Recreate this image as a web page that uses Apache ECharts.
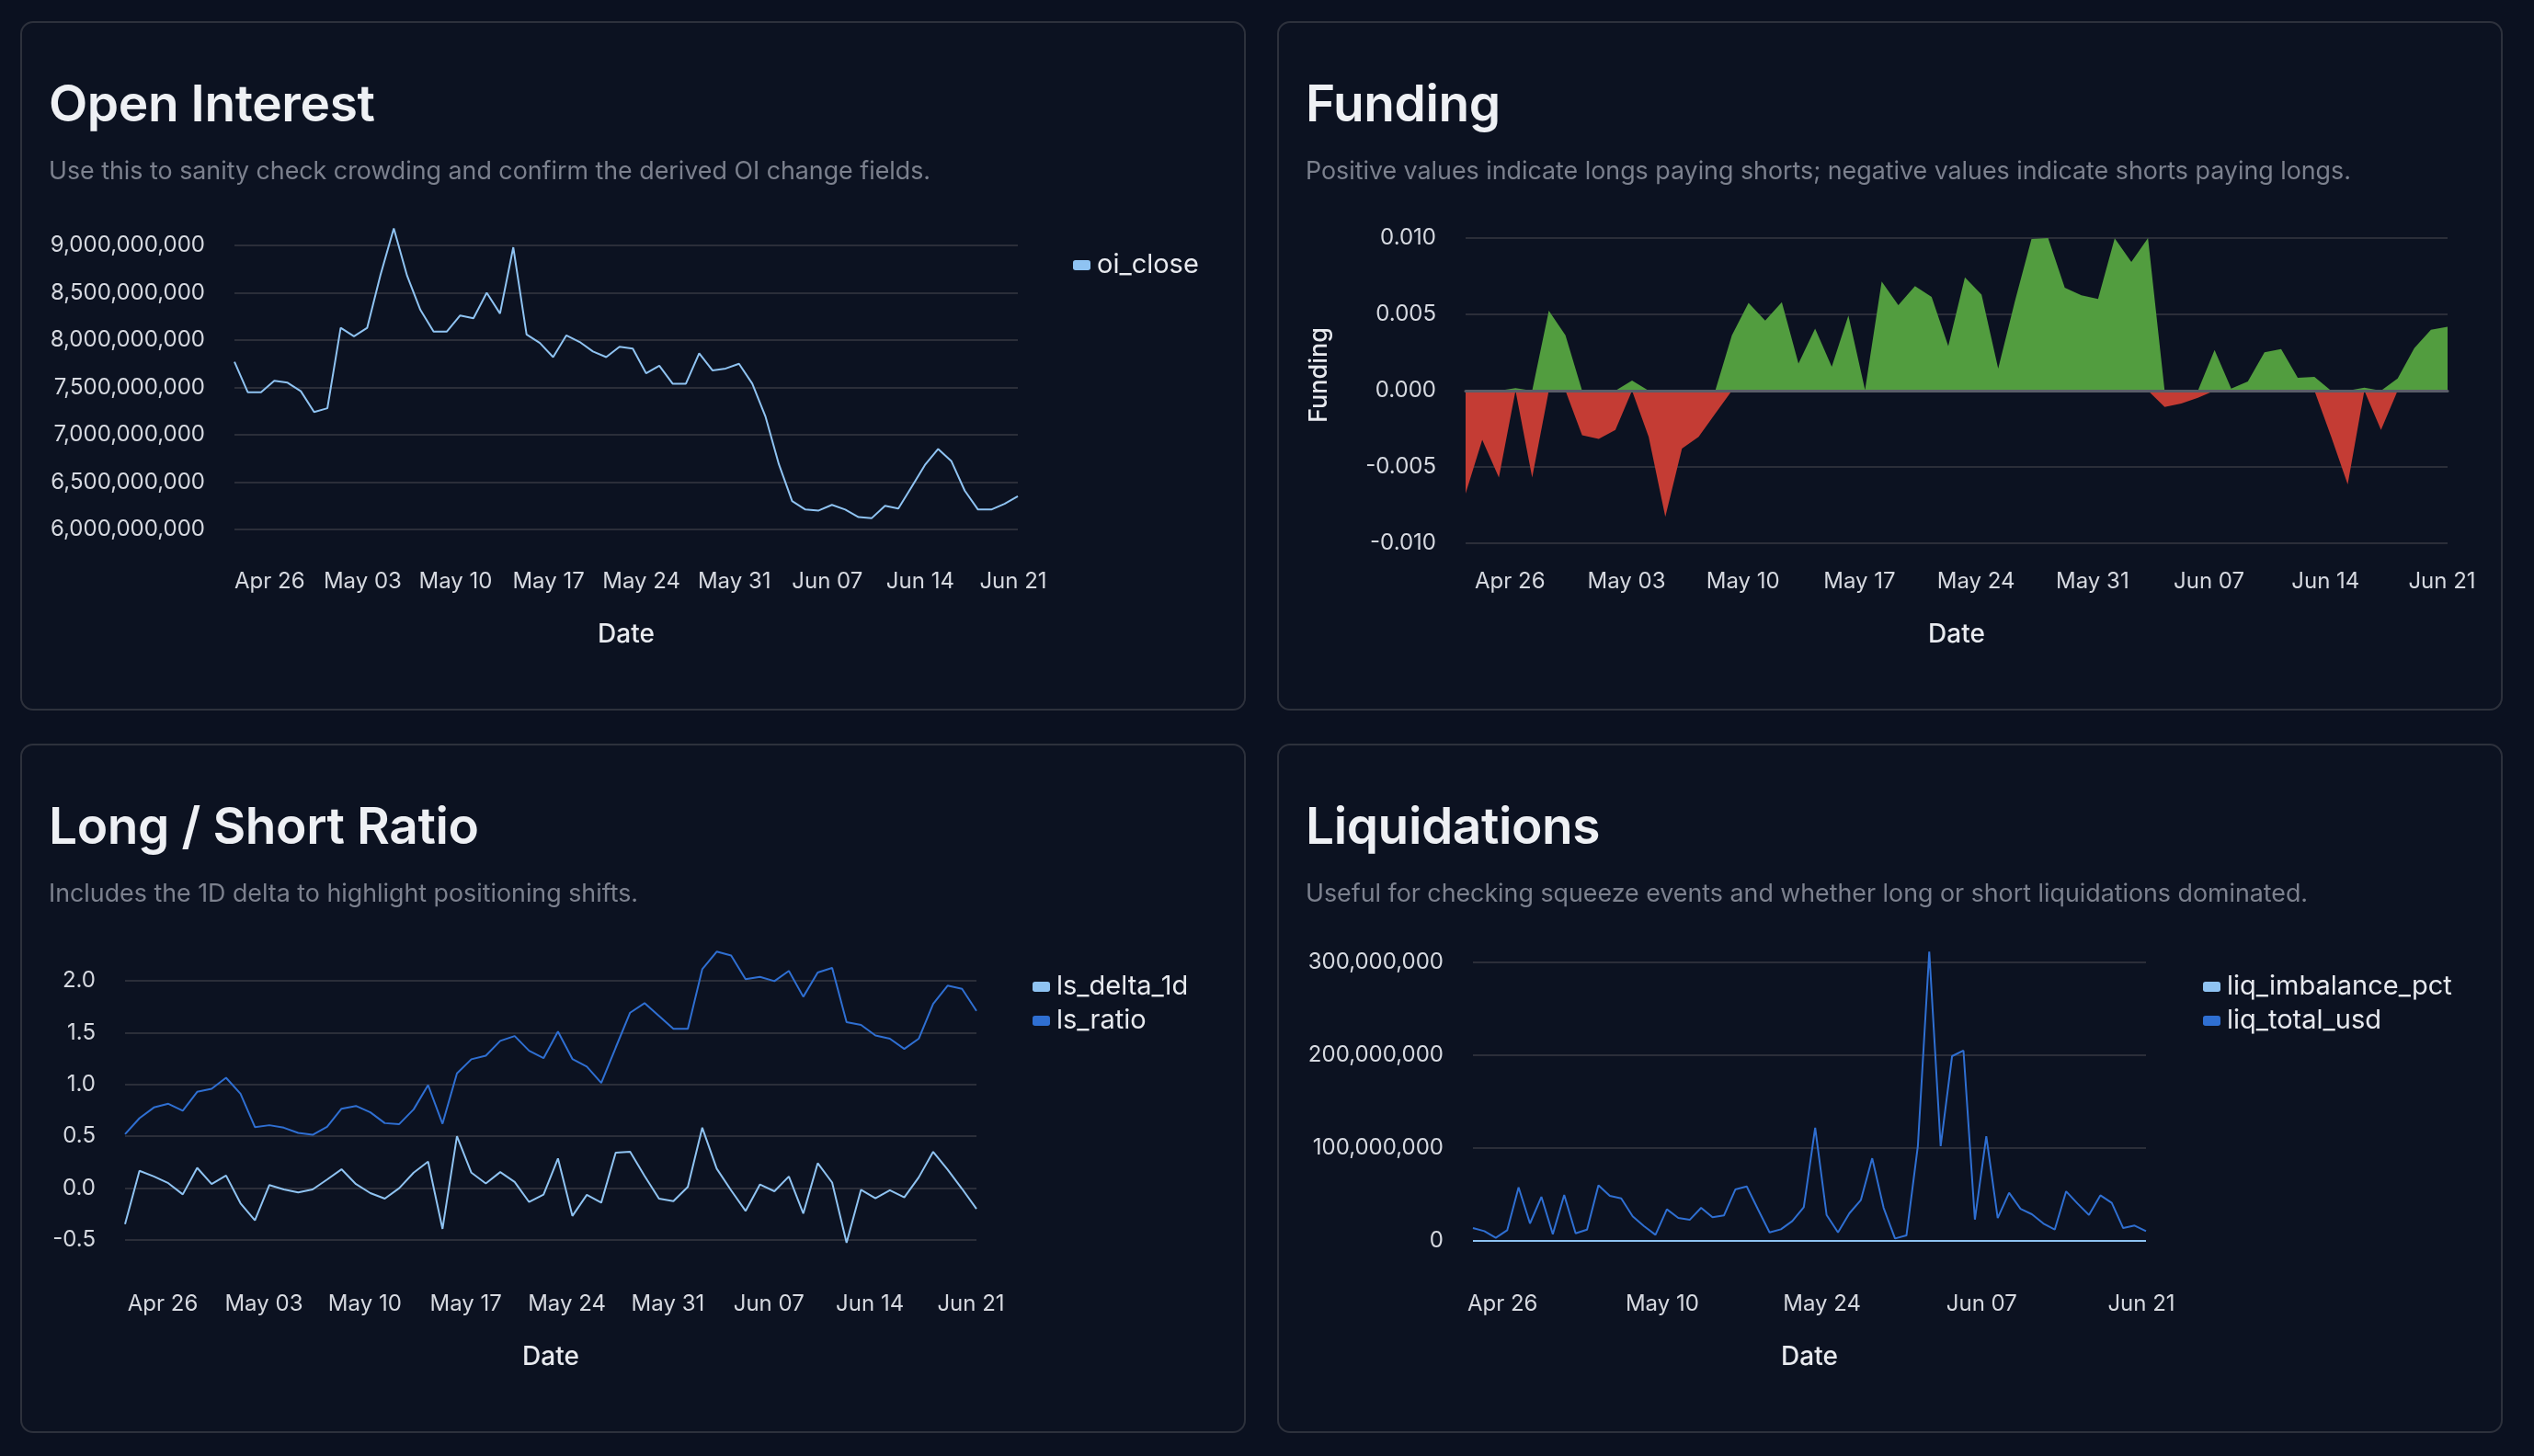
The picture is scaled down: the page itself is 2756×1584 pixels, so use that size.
<!DOCTYPE html>
<html>
<head>
<meta charset="utf-8">
<title>Derivatives dashboard</title>
<script src="https://cdn.jsdelivr.net/npm/echarts@6/dist/echarts.min.js"></script>
<style>
	html, body { margin: 0; padding: 0; background: #0b1120; width: 2756px; height: 1584px; overflow: hidden; }
	.card { position: absolute; width: 1333px; height: 750px; box-sizing: border-box; border: 2px solid #2d313c; border-radius: 14px; background: #0c1221; }
	.card h2 { position: absolute; left: 29px; top: 60px; margin: 0; font: 600 55px/1 Inter, sans-serif; color: #eef0f4; letter-spacing: -0.4px; z-index: 2; white-space: nowrap; }
	.card p { position: absolute; left: 29px; top: 147px; margin: 0; font: 400 26.8px/1 Inter, sans-serif; color: #7c818e; z-index: 2; white-space: nowrap; }
	.chart { position: absolute; left: -2px; top: -2px; width: 1333px; height: 750px; }
</style>
</head>
<body>
<div class="card" style="left:22px;top:23px">
	<div class="chart" id="oi"></div>
	<h2>Open Interest</h2>
	<p>Use this to sanity check crowding and confirm the derived OI change fields.</p>
</div>
<div class="card" style="left:1389px;top:23px">
	<div class="chart" id="funding"></div>
	<h2>Funding</h2>
	<p>Positive values indicate longs paying shorts; negative values indicate shorts paying longs.</p>
</div>
<div class="card" style="left:22px;top:809px">
	<div class="chart" id="ls"></div>
	<h2>Long / Short Ratio</h2>
	<p>Includes the 1D delta to highlight positioning shifts.</p>
</div>
<div class="card" style="left:1389px;top:809px">
	<div class="chart" id="liq"></div>
	<h2>Liquidations</h2>
	<p>Useful for checking squeeze events and whether long or short liquidations dominated.</p>
</div>
<script>
// 日期（每天一个点）
var dates = ['Apr 23', 'Apr 24', 'Apr 25', 'Apr 26', 'Apr 27', 'Apr 28', 'Apr 29', 'Apr 30',
	'May 01', 'May 02', 'May 03', 'May 04', 'May 05', 'May 06', 'May 07', 'May 08', 'May 09', 'May 10',
	'May 11', 'May 12', 'May 13', 'May 14', 'May 15', 'May 16', 'May 17', 'May 18', 'May 19', 'May 20',
	'May 21', 'May 22', 'May 23', 'May 24', 'May 25', 'May 26', 'May 27', 'May 28', 'May 29', 'May 30', 'May 31',
	'Jun 01', 'Jun 02', 'Jun 03', 'Jun 04', 'Jun 05', 'Jun 06', 'Jun 07', 'Jun 08', 'Jun 09', 'Jun 10',
	'Jun 11', 'Jun 12', 'Jun 13', 'Jun 14', 'Jun 15', 'Jun 16', 'Jun 17', 'Jun 18', 'Jun 19', 'Jun 20', 'Jun 21'];

var oiClose = [7.77e9, 7.45e9, 7.45e9, 7.57e9, 7.55e9, 7.46e9, 7.24e9, 7.28e9, 8.13e9, 8.04e9,
	8.13e9, 8.69e9, 9.18e9, 8.68e9, 8.32e9, 8.09e9, 8.09e9, 8.26e9, 8.23e9, 8.50e9,
	8.28e9, 8.98e9, 8.06e9, 7.97e9, 7.82e9, 8.05e9, 7.98e9, 7.88e9, 7.82e9, 7.93e9,
	7.91e9, 7.65e9, 7.73e9, 7.54e9, 7.54e9, 7.86e9, 7.68e9, 7.70e9, 7.75e9, 7.54e9,
	7.19e9, 6.69e9, 6.30e9, 6.21e9, 6.20e9, 6.26e9, 6.21e9, 6.13e9, 6.12e9, 6.25e9,
	6.22e9, 6.45e9, 6.68e9, 6.85e9, 6.72e9, 6.41e9, 6.21e9, 6.21e9, 6.27e9, 6.35e9];

var funding = [-0.00675, -0.00323, -0.00569, 0.00016, -0.00569, 0.00524, 0.00363, -0.00292, -0.00317, -0.00258,
	0.00067, -0.00302, -0.00827, -0.00379, -0.00302, -0.0015, 0.00363, 0.00575, 0.0046, 0.0058,
	0.00177, 0.00407, 0.00157, 0.00492, 0.00004, 0.00716, 0.0056, 0.00685, 0.00615, 0.00292,
	0.00742, 0.00629, 0.00145, 0.00585, 0.00994, 0.0100, 0.00675, 0.00625, 0.00601, 0.00998,
	0.00843, 0.0100, -0.00107, -0.00085, -0.00046, 0.00266, 0.00014, 0.0006, 0.00252, 0.00272,
	0.00085, 0.00091, -0.003, -0.00615, 0.0002, -0.00258, 0.0008, 0.00278, 0.00399, 0.00419];

var lsRatio = [0.52, 0.675, 0.778, 0.814, 0.746, 0.929, 0.959, 1.065, 0.911, 0.589,
	0.607, 0.583, 0.533, 0.515, 0.592, 0.766, 0.793, 0.731, 0.627, 0.618,
	0.760, 0.994, 0.621, 1.107, 1.243, 1.278, 1.420, 1.467, 1.325, 1.254,
	1.51, 1.246, 1.172, 1.015, 1.355, 1.692, 1.784, 1.660, 1.536, 1.536,
	2.112, 2.281, 2.243, 2.015, 2.038, 1.997, 2.095, 1.846, 2.080, 2.124,
	1.601, 1.574, 1.473, 1.441, 1.343, 1.441, 1.778, 1.953, 1.923, 1.710];

var lsDelta1d = [-0.348, 0.167, 0.113, 0.048, -0.060, 0.196, 0.039, 0.122, -0.146, -0.310,
	0.030, -0.012, -0.042, -0.012, 0.083, 0.182, 0.039, -0.048, -0.101, 0.0,
	0.149, 0.256, -0.393, 0.5, 0.149, 0.045, 0.155, 0.060, -0.134, -0.062,
	0.286, -0.268, -0.065, -0.140, 0.342, 0.351, 0.119, -0.101, -0.125, 0.012,
	0.583, 0.188, -0.021, -0.220, 0.036, -0.030, 0.113, -0.244, 0.241, 0.054,
	-0.527, -0.015, -0.098, -0.021, -0.089, 0.104, 0.351, 0.179, -0.006, -0.199];

var liqTotalUsd = [13.8e6, 10.5e6, 3.3e6, 11.5e6, 57.7e6, 18.8e6, 47.5e6, 7.3e6, 49.5e6, 8.2e6,
	12.2e6, 60e6, 48.5e6, 45.8e6, 26.4e6, 15.8e6, 6.6e6, 34e6, 24.7e6, 22.7e6,
	35.6e6, 25.4e6, 27.4e6, 55.4e6, 58.7e6, 33.6e6, 9.2e6, 12.5e6, 21.4e6, 36.3e6,
	122e6, 28e6, 9.2e6, 29.7e6, 43.9e6, 89e6, 35.6e6, 2.6e6, 5.9e6, 102e6,
	311.6e6, 102e6, 199e6, 205e6, 23e6, 112.8e6, 24.7e6, 51.8e6, 34.6e6, 28.7e6,
	18.8e6, 12.2e6, 53.4e6, 40.2e6, 28e6, 49.1e6, 40.9e6, 13.8e6, 16.5e6, 10.5e6];

// 比例值在这个量级上看不出来，都贴着0
var liqImbalancePct = [0, 0, 0, 0, 0, 0, 0, 0, 0, 0,
	0, 0, 0, 0, 0, 0, 0, 0, 0, 0,
	0, 0, 0, 0, 0, 0, 0, 0, 0, 0,
	0, 0, 0, 0, 0, 0, 0, 0, 0, 0,
	0, 0, 0, 0, 0, 0, 0, 0, 0, 0,
	0, 0, 0, 0, 0, 0, 0, 0, 0, 0];

var LIGHT = '#8fc3f2';
var DARK = '#2f6fd2';
var GREEN = '#529d3f';
var RED = '#c43c34';
var FONT = 'Inter';

function fmtInt(v) {
	return Math.round(v).toLocaleString('en-US');
}

// shift: 日期标签向左挪一点（原图的点落在当天上午）
function xAxisOf(every, margin, nameGap, shift) {
	return {
		type: 'category',
		data: dates,
		boundaryGap: false,
		axisLine: { show: false },
		axisTick: { show: false },
		axisLabel: {
			color: '#d6d9e0', fontSize: 24, fontFamily: FONT, margin: margin,
			padding: [0, shift * 2, 0, 0],
			interval: function(i) { return i % every === 3; }
		},
		name: 'Date',
		nameLocation: 'middle',
		nameGap: nameGap,
		nameTextStyle: { color: '#e8eaef', fontSize: 28, fontFamily: FONT, fontWeight: 500 }
	};
}

function yAxisOf(min, max, interval, formatter) {
	return {
		type: 'value',
		min: min, max: max, interval: interval,
		axisLine: { show: false },
		axisTick: { show: false },
		axisLabel: { color: '#d6d9e0', fontSize: 24, fontFamily: FONT, margin: 32, formatter: formatter },
		splitLine: { lineStyle: { color: '#2b2e39', width: 2 } }
	};
}

function lineSeries(name, data, color) {
	return {
		name: name, type: 'line', data: data, symbol: 'none', clip: false,
		lineStyle: { width: 2, color: color }, itemStyle: { color: color }
	};
}

function legendOf(left, top) {
	return {
		orient: 'vertical', left: left, top: top,
		icon: 'roundRect', itemWidth: 19, itemHeight: 11, itemGap: 8,
		textStyle: { color: '#e8eaef', fontSize: 29, fontFamily: FONT, padding: [0, 0, 0, 2] }
	};
}

// Open Interest
var oiChart = echarts.init(document.getElementById('oi'));
oiChart.setOption({
	animation: false,
	grid: { left: 233, top: 244, width: 852, height: 309 },
	legend: legendOf(1140, 246),
	xAxis: xAxisOf(7, 45, 101, 5),
	yAxis: yAxisOf(6e9, 9e9, 5e8, fmtInt),
	series: [lineSeries('oi_close', oiClose, LIGHT)]
});

// Funding：正负分开画
var fundingPos = funding.map(function(v) { return v > 0 ? v : 0; });
var fundingNeg = funding.map(function(v) { return v < 0 ? v : 0; });
var fxAxis = xAxisOf(7, 30, 86, 6);
fxAxis.axisLine = { show: true, onZero: true, lineStyle: { color: '#5a5d68', width: 3 } };
fxAxis.z = 5;
var fyAxis = yAxisOf(-0.01, 0.01, 0.005, function(v) { return v.toFixed(3); });
fyAxis.name = 'Funding';
fyAxis.nameLocation = 'middle';
fyAxis.nameGap = 146;
fyAxis.nameTextStyle = { color: '#e8eaef', fontSize: 27, fontFamily: FONT, fontWeight: 500, padding: [0, 0, 0, 34] };
var fundingChart = echarts.init(document.getElementById('funding'));
fundingChart.setOption({
	animation: false,
	grid: { left: 205, top: 236, width: 1068, height: 332 },
	xAxis: fxAxis,
	yAxis: fyAxis,
	series: [{
		type: 'line', data: fundingPos, symbol: 'none', clip: false,
		lineStyle: { width: 0, opacity: 0 }, areaStyle: { color: GREEN, opacity: 1 }
	}, {
		type: 'line', data: fundingNeg, symbol: 'none', clip: false,
		lineStyle: { width: 0, opacity: 0 }, areaStyle: { color: RED, opacity: 1 }
	}]
});

// Long / Short
var lsChart = echarts.init(document.getElementById('ls'));
lsChart.setOption({
	animation: false,
	grid: { left: 114, top: 258, width: 926, height: 282 },
	legend: legendOf(1096, 245),
	xAxis: xAxisOf(7, 58, 114, 6),
	yAxis: yAxisOf(-0.5, 2.0, 0.5, function(v) { return v.toFixed(1); }),
	series: [lineSeries('ls_delta_1d', lsDelta1d, LIGHT), lineSeries('ls_ratio', lsRatio, DARK)]
});

// Liquidations
var liqChart = echarts.init(document.getElementById('liq'));
liqChart.setOption({
	animation: false,
	grid: { left: 213, top: 238, width: 732, height: 303 },
	legend: legendOf(1002, 245),
	xAxis: xAxisOf(14, 57, 113, 5),
	yAxis: yAxisOf(0, 3e8, 1e8, fmtInt),
	series: [lineSeries('liq_total_usd', liqTotalUsd, DARK), lineSeries('liq_imbalance_pct', liqImbalancePct, LIGHT)]
});
liqChart.setOption({ legend: { data: ['liq_imbalance_pct', 'liq_total_usd'] } });
</script>
</body>
</html>
